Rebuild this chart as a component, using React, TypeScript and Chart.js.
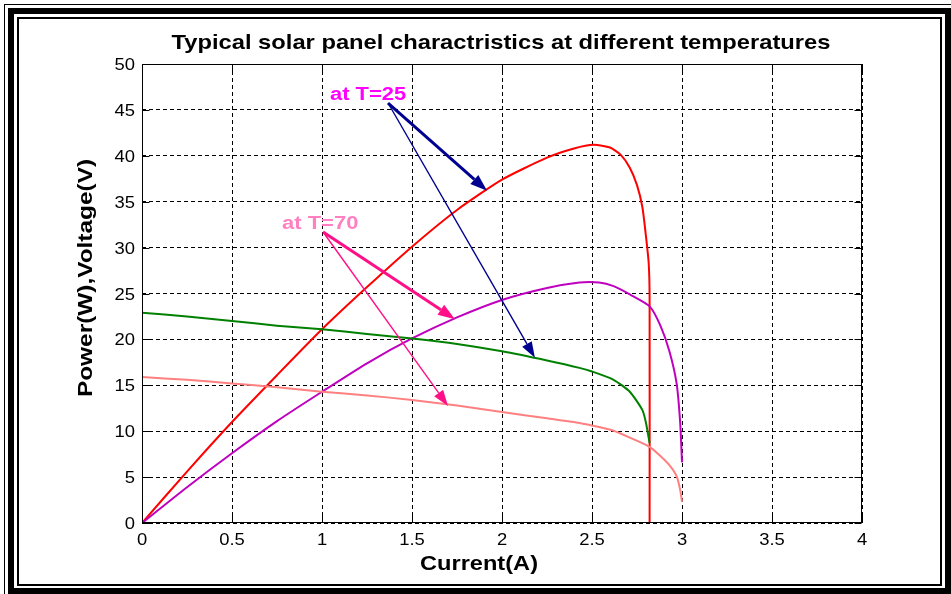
import React, { useEffect, useRef } from 'react';
import { Chart, registerables } from 'chart.js';

Chart.register(...registerables);

const WIDTH = 951;
const HEIGHT = 594;

// Panel voltage (V) against current (A) at T = 25
const current25V = [0, 0.25, 0.5, 0.75, 1.0, 1.25, 1.5, 1.75, 2.0, 2.25, 2.43, 2.5, 2.62, 2.71, 2.78, 2.8, 2.82];
const voltage25 = [22.9, 22.5, 22.0, 21.5, 21.1, 20.6, 20.1, 19.5, 18.7, 17.7, 16.9, 16.5, 15.6, 14.3, 12.3, 10.9, 8.7];

// Panel power (W) against current (A) at T = 25
const current25P = [0, 0.25, 0.5, 0.75, 1.0, 1.25, 1.5, 1.75, 2.0, 2.25, 2.4, 2.51, 2.6, 2.66, 2.71, 2.75, 2.78, 2.8, 2.815, 2.82, 2.82];
const power25 = [0, 5.6, 11.0, 16.1, 21.1, 25.7, 30.1, 34.1, 37.4, 39.8, 40.8, 41.2, 40.9, 40.1, 38.7, 36.8, 34.4, 31.2, 28.3, 24.5, 0];

// Panel voltage (V) against current (A) at T = 70
const current70V = [0, 0.25, 0.5, 0.75, 1.0, 1.25, 1.5, 1.75, 2.0, 2.25, 2.43, 2.54, 2.62, 2.71, 2.82, 2.88, 2.93, 2.97, 2.99, 3.0];
const voltage70 = [15.9, 15.6, 15.2, 14.8, 14.3, 13.9, 13.4, 12.8, 12.1, 11.4, 10.9, 10.45, 10.05, 9.3, 8.3, 7.3, 6.3, 5.1, 3.6, 2.3];

// Panel power (W) against current (A) at T = 70
const current70P = [0, 0.25, 0.5, 0.75, 1.0, 1.25, 1.5, 1.75, 2.0, 2.25, 2.43, 2.54, 2.62, 2.71, 2.82, 2.88, 2.93, 2.97, 2.99, 3.0];
const power70 = [0, 3.9, 7.6, 11.1, 14.3, 17.4, 20.1, 22.4, 24.3, 25.6, 26.2, 26.2, 25.8, 24.9, 23.6, 21.5, 18.7, 15.2, 10.9, 6.6];

const xTickLabels = ['0', '0.5', '1', '1.5', '2', '2.5', '3', '3.5', '4'];
const yTickLabels = ['0', '5', '10', '15', '20', '25', '30', '35', '40', '45', '50'];

const titleText = 'Typical solar panel charactristics at different temperatures';
const xTitleText = 'Current(A)';
const yTitleText = 'Power(W),Voltage(V)';

// Callout texts and where they sit, in data units (current, value)
const calloutTexts = ['at T=25', 'at T=70'];
const calloutAnchors = [[1.256, 46.8], [0.99, 32.8]];
const calloutColors = ['#ff00ff', '#ff80c0'];

// Arrows from each callout to the curves, in data units
const arrowStarts = [[1.367, 45.75], [1.367, 45.75], [1.006, 31.7], [1.006, 31.7]];
const arrowEnds = [[1.917, 36.2], [2.183, 18.0], [1.739, 22.2], [1.70, 12.75]];
const arrowColors = ['#000090', '#000090', '#ff1088', '#ff1088'];
const arrowWidths = [3, 1.4, 3, 1.4];

const toPoints = (xs: number[], ys: number[]) => xs.map((x, i) => ({ x, y: ys[i] }));

function drawText(
  ctx: CanvasRenderingContext2D,
  text: string,
  x: number,
  y: number,
  font: string,
  color: string,
  stretch: number,
  align: CanvasTextAlign,
  rotate = false
) {
  ctx.save();
  ctx.translate(x, y);
  if (rotate) ctx.rotate(-Math.PI / 2);
  ctx.scale(stretch, 1);
  ctx.font = font;
  ctx.fillStyle = color;
  ctx.textAlign = align;
  ctx.textBaseline = 'alphabetic';
  ctx.fillText(text, 0, 0);
  ctx.restore();
}

function drawArrow(
  ctx: CanvasRenderingContext2D,
  x1: number,
  y1: number,
  x2: number,
  y2: number,
  color: string,
  width: number
) {
  const ang = Math.atan2(y2 - y1, x2 - x1);
  const headLen = width > 2 ? 17 : 16;
  const headW = width > 2 ? 12 : 11;
  const bx = x2 - headLen * Math.cos(ang);
  const by = y2 - headLen * Math.sin(ang);
  ctx.save();
  ctx.strokeStyle = color;
  ctx.lineWidth = width;
  ctx.beginPath();
  ctx.moveTo(x1, y1);
  ctx.lineTo(bx, by);
  ctx.stroke();
  ctx.fillStyle = color;
  ctx.beginPath();
  ctx.moveTo(x2, y2);
  ctx.lineTo(bx + (headW / 2) * Math.sin(ang), by - (headW / 2) * Math.cos(ang));
  ctx.lineTo(bx - (headW / 2) * Math.sin(ang), by + (headW / 2) * Math.cos(ang));
  ctx.closePath();
  ctx.fill();
  ctx.restore();
}

const decorPlugin = {
  id: 'decor',
  afterDraw(chart: any) {
    const { ctx, chartArea } = chart;
    const xs = chart.scales.x;
    const ys = chart.scales.y;
    const L = Math.round(chartArea.left) + 0.5;
    const R = Math.round(chartArea.right) - 0.5;
    const T = Math.round(chartArea.top) + 0.5;
    const B = Math.round(chartArea.bottom) - 0.5;

    // Solid box round the plot with inward tick marks
    ctx.save();
    ctx.strokeStyle = '#000';
    ctx.lineWidth = 1;
    ctx.setLineDash([]);
    ctx.strokeRect(L, T, R - L, B - T);
    const tick = 7;
    ctx.beginPath();
    xTickLabels.forEach((lab) => {
      const px = Math.round(xs.getPixelForValue(Number(lab))) + 0.5;
      ctx.moveTo(px, B);
      ctx.lineTo(px, B - tick);
      ctx.moveTo(px, T);
      ctx.lineTo(px, T + tick);
    });
    yTickLabels.forEach((lab) => {
      const py = Math.round(ys.getPixelForValue(Number(lab))) + 0.5;
      ctx.moveTo(L, py);
      ctx.lineTo(L + tick, py);
      ctx.moveTo(R, py);
      ctx.lineTo(R - tick, py);
    });
    ctx.stroke();
    ctx.restore();

    // Tick labels
    const tickFont = '16px "Liberation Sans", Arial, sans-serif';
    xTickLabels.forEach((lab) => {
      const px = xs.getPixelForValue(Number(lab));
      drawText(ctx, lab, px, chartArea.bottom + 22, tickFont, '#000', 1.15, 'center');
    });
    yTickLabels.forEach((lab) => {
      const py = ys.getPixelForValue(Number(lab));
      drawText(ctx, lab, chartArea.left - 7, py + 6, tickFont, '#000', 1.15, 'right');
    });

    // Title and axis titles
    drawText(ctx, titleText, 501, 49, 'bold 21px "Liberation Sans", Arial, sans-serif', '#000', 1.13, 'center');
    drawText(ctx, xTitleText, 479, 570, 'bold 20px "Liberation Sans", Arial, sans-serif', '#000', 1.18, 'center');
    drawText(ctx, yTitleText, 92, 278, 'bold 20px "Liberation Sans", Arial, sans-serif', '#000', 1.22, 'center', true);

    // Callout arrows
    arrowStarts.forEach((s, i) => {
      const e = arrowEnds[i];
      drawArrow(
        ctx,
        xs.getPixelForValue(s[0]),
        ys.getPixelForValue(s[1]),
        xs.getPixelForValue(e[0]),
        ys.getPixelForValue(e[1]),
        arrowColors[i],
        arrowWidths[i]
      );
    });

    // Callout texts
    calloutTexts.forEach((t, i) => {
      const a = calloutAnchors[i];
      drawText(
        ctx,
        t,
        xs.getPixelForValue(a[0]),
        ys.getPixelForValue(a[1]) + 7,
        'bold 18px "Liberation Sans", Arial, sans-serif',
        calloutColors[i],
        1.22,
        'center'
      );
    });
  },
};

export default function App() {
  const canvasRef = useRef<HTMLCanvasElement | null>(null);

  useEffect(() => {
    const canvas = canvasRef.current;
    if (!canvas) return;
    const line = (data: { x: number; y: number }[], color: string) => ({
      data,
      borderColor: color,
      backgroundColor: color,
      borderWidth: 2,
      pointRadius: 0,
      tension: 0.2,
      fill: false,
    });
    const chart = new Chart(canvas, {
      type: 'line',
      data: {
        datasets: [
          line(toPoints(current70V, voltage70), '#ff8080'),
          line(toPoints(current25V, voltage25), '#008000'),
          line(toPoints(current70P, power70), '#bf00bf'),
          line(toPoints(current25P, power25), '#ff0000'),
        ],
      },
      options: {
        animation: false,
        responsive: false,
        devicePixelRatio: 1,
        layout: { padding: { left: 0, right: 89, top: 64, bottom: 0 } },
        plugins: {
          legend: { display: false },
          tooltip: { enabled: false },
          title: { display: false },
        },
        scales: {
          x: {
            type: 'linear',
            min: 0,
            max: 4,
            ticks: { stepSize: 0.5, display: false },
            grid: { color: '#000', lineWidth: 1, drawTicks: false },
            border: { display: false, dash: [4, 3] },
            afterFit: (s: any) => {
              s.height = 71;
            },
          },
          y: {
            type: 'linear',
            min: 0,
            max: 50,
            ticks: { stepSize: 5, display: false },
            grid: { color: '#000', lineWidth: 1, drawTicks: false },
            border: { display: false, dash: [4, 3] },
            afterFit: (s: any) => {
              s.width = 142;
            },
          },
        },
      } as any,
      plugins: [decorPlugin],
    });
    return () => chart.destroy();
  }, []);

  const box = (left: number, top: number, width: number, height: number, border: number) => ({
    position: 'absolute' as const,
    left,
    top,
    width: width - 2 * border,
    height: height - 2 * border,
    border: `${border}px solid #000`,
  });

  return (
    <div
      style={{
        position: 'absolute',
        left: 0,
        top: 0,
        width: WIDTH,
        height: HEIGHT,
        background: '#fff',
        overflow: 'hidden',
      }}
    >
      <div style={box(4, 4, 960, 610, 1)} />
      <div style={box(8, 8, 943, 586, 6)} />
      <div style={box(17, 17, 925, 569, 2)} />
      <canvas
        ref={canvasRef}
        width={WIDTH}
        height={HEIGHT}
        style={{ position: 'absolute', left: 0, top: 0, display: 'block' }}
      />
    </div>
  );
}
